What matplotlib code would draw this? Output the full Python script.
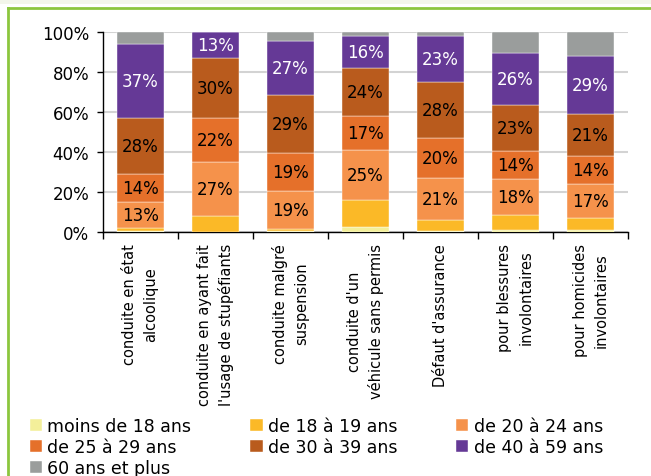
import matplotlib.pyplot as plt
import matplotlib.patches as mpatches
import numpy as np

plt.rcParams['font.family'] = ['DejaVu Sans']

categories = ["conduite en état\nalcoolique",
              "conduite en ayant fait\nl'usage de stupéfiants",
              "conduite malgré\nsuspension",
              "conduite d'un\nvéhicule sans permis",
              "Défaut d'assurance",
              "pour blessures\ninvolontaires",
              "pour homicides\ninvolontaires"]

age_groups = ["moins de 18 ans", "de 18 à 19 ans", "de 20 à 24 ans",
              "de 25 à 29 ans", "de 30 à 39 ans", "de 40 à 59 ans",
              "60 ans et plus"]

moins_18 = [0.3, 0.2, 0.3, 2.7, 0.3, 1.2, 1.2]
de_18_19 = [1.5, 7.8, 1.2, 13.5, 5.5, 7.5, 6.0]
de_20_24 = [13, 27, 19, 25, 21, 18, 17]
de_25_29 = [14, 22, 19, 17, 20, 14, 14]
de_30_39 = [28, 30, 29, 24, 28, 23, 21]
de_40_59 = [37, 13, 27, 16, 23, 26, 29]
plus_60 = [6.2, 0.0, 4.5, 1.8, 2.2, 10.3, 11.8]

series = [moins_18, de_18_19, de_20_24, de_25_29, de_30_39, de_40_59, plus_60]
colors = ["#f3ef9a", "#fbb927", "#f5924b", "#e5702a", "#b95b1d", "#653996", "#9a9d9c"]
labelled = [2, 3, 4, 5]  # series that carry a value label

fig = plt.figure(figsize=(6.51, 4.77), dpi=100)
ax = fig.add_axes([103/651, 1 - 233/477, 525/651, 200/477])

# frame around the chart
fig.patches.append(mpatches.Rectangle((0, 1 - 5/477), 1, 5/477, transform=fig.transFigure,
                                      facecolor="#f3f6ea", edgecolor="none", zorder=0))
fig.lines.append(plt.Line2D([7.5/651, 7.5/651], [0, 1 - 8.5/477], transform=fig.transFigure,
                            color="#8cc63e", lw=2))
fig.lines.append(plt.Line2D([7.5/651, 1], [1 - 8.5/477, 1 - 8.5/477], transform=fig.transFigure,
                            color="#8cc63e", lw=2))

x = np.arange(len(categories))
bottom = np.zeros(len(categories))
handles = []
for i, vals in enumerate(series):
    vals = np.array(vals, dtype=float)
    bars = ax.bar(x, vals, width=0.63, bottom=bottom, color=colors[i],
                  edgecolor="white", linewidth=0.3, zorder=3, label=age_groups[i])
    handles.append(bars)
    if i in labelled:
        for xi, b, v in zip(x, bottom, vals):
            ax.text(xi, b + v / 2, "%d%%" % round(v), ha="center", va="center",
                    fontsize=12, color="white" if i == 5 else "black", zorder=4)
    bottom += vals

ax.set_xlim(-0.5, len(categories) - 0.5)
ax.set_ylim(0, 100)
ax.set_yticks(np.arange(0, 101, 20))
ax.set_yticklabels(["%d%%" % v for v in range(0, 101, 20)], fontsize=12)
ax.yaxis.grid(True, color="#d3d3d3", lw=1.5, zorder=0)
ax.set_axisbelow(True)

ax.set_xticks(x)
ax.set_xticklabels(categories, rotation=90, fontsize=10.5, ha="center", va="top",
                   linespacing=1.5)
ax.set_xticks(np.arange(-0.5, len(categories)), minor=True)
ax.tick_params(axis="x", which="major", length=0, pad=8)
ax.tick_params(axis="x", which="minor", length=5, direction="out", width=1)
ax.tick_params(axis="y", length=4, direction="out", width=1, pad=6)

for s in ["top", "right"]:
    ax.spines[s].set_visible(False)
ax.spines["left"].set_linewidth(1)
ax.spines["bottom"].set_linewidth(1)

# legend is filled column by column, reorder so it reads row by row
order = [0, 3, 6, 1, 4, 2, 5]
fig.legend([handles[k] for k in order], [age_groups[k] for k in order],
           loc="upper left", bbox_to_anchor=(30/651, 1 - 418/477), ncol=3,
           frameon=False, fontsize=12.5, handlelength=0.7, handleheight=0.7,
           handletextpad=0.3, columnspacing=3.4, labelspacing=0.17,
           borderaxespad=0, borderpad=0)

fig.savefig("out.png", dpi=100)
